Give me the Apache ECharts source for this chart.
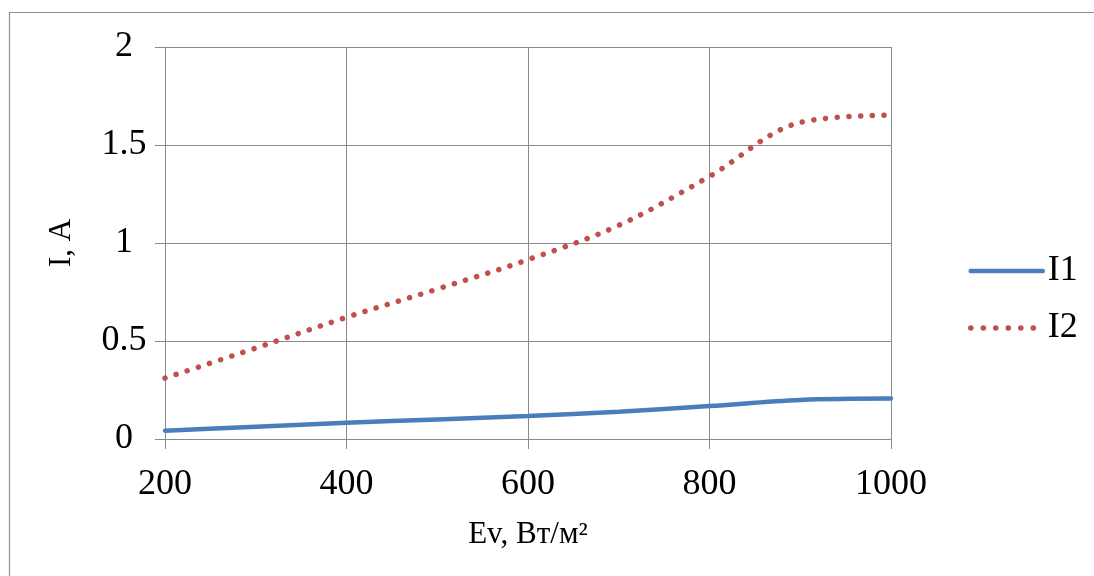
<!DOCTYPE html>
<html>
<head>
<meta charset="utf-8">
<script src="https://cdn.jsdelivr.net/npm/echarts@6/dist/echarts.min.js"></script>
<style>
  html, body { margin: 0; padding: 0; background: #fff; }
  #chart { width: 1094px; height: 576px; }
</style>
</head>
<body>
<div id="chart"></div>
<script>
// Irradiance, W/m²
const irradiance = [200, 300, 400, 500, 600, 700, 800, 900, 1000];
// Currents, A
const currentI1 = [0.042, 0.063, 0.083, 0.100, 0.117, 0.139, 0.168, 0.199, 0.206];
const currentI2 = [0.311, 0.464, 0.621, 0.765, 0.915, 1.090, 1.340, 1.615, 1.652];

const seriesNames = ['I1', 'I2'];
const xTitle = 'Ev, Вт/м²';
const yTitle = 'I, A';

const FONT = '"Liberation Serif", "DejaVu Serif", serif';
const GRID_COLOR = '#8a8a8a';
const BLUE = '#4a7ebb';
const RED = '#c0504d';

const pairs = (ys) => irradiance.map((x, i) => [x, ys[i]]);

const solidStyle = { color: BLUE, width: 4.5, cap: 'round' };
const dottedStyle = { color: RED, width: 5.5, type: [0.1, 11.6], cap: 'round' };

const chart = echarts.init(document.getElementById('chart'));
chart.setOption({
  animation: false,
  backgroundColor: '#ffffff',
  textStyle: { fontFamily: FONT, color: '#000' },
  grid: { left: 165, right: 203, top: 47, bottom: 137, containLabel: false },
  xAxis: {
    type: 'value',
    min: 200,
    max: 1000,
    interval: 200,
    name: xTitle,
    nameLocation: 'middle',
    nameGap: 80,
    nameTextStyle: { fontFamily: FONT, fontSize: 31, color: '#000' },
    axisLine: { show: true, lineStyle: { color: GRID_COLOR, width: 1 } },
    axisTick: { show: true, length: 10, lineStyle: { color: GRID_COLOR, width: 1 } },
    axisLabel: { fontFamily: FONT, fontSize: 36, color: '#000', margin: 28, formatter: (v) => String(v) },
    splitLine: { show: true, lineStyle: { color: GRID_COLOR, width: 1 } }
  },
  yAxis: {
    type: 'value',
    min: 0,
    max: 2,
    interval: 0.5,
    name: yTitle,
    nameLocation: 'middle',
    nameGap: 88,
    nameRotate: 90,
    nameTextStyle: { fontFamily: FONT, fontSize: 31, color: '#000' },
    axisLine: { show: true, lineStyle: { color: GRID_COLOR, width: 1 } },
    axisTick: { show: true, length: 10, lineStyle: { color: GRID_COLOR, width: 1 } },
    axisLabel: { fontFamily: FONT, fontSize: 36, color: '#000', margin: 41, align: 'center', formatter: (v) => String(v) },
    splitLine: { show: true, lineStyle: { color: GRID_COLOR, width: 1 } }
  },
  legend: {
    orient: 'vertical',
    left: 963,
    top: 248,
    itemWidth: 72,
    itemHeight: 10,
    itemGap: 21,
    itemStyle: { opacity: 0 },
    textStyle: { fontFamily: FONT, fontSize: 36, color: '#000', padding: [0, 0, 0, 0] },
    data: [
      { name: seriesNames[0], lineStyle: solidStyle },
      { name: seriesNames[1], lineStyle: { color: RED, width: 5.5, type: [0.1, 12.4], cap: 'round' } }
    ]
  },
  graphic: [{
    type: 'rect',
    shape: { x: 9.5, y: 12.5, width: 1200, height: 700 },
    style: { fill: 'none', stroke: '#8f8f8f', lineWidth: 1.2 },
    silent: true,
    z: -1
  }],
  series: [
    {
      name: seriesNames[0],
      type: 'line',
      data: pairs(currentI1),
      smooth: 0.35,
      symbol: 'none',
      lineStyle: solidStyle,
      itemStyle: { color: BLUE }
    },
    {
      name: seriesNames[1],
      type: 'line',
      data: pairs(currentI2),
      smooth: 0.35,
      symbol: 'none',
      lineStyle: dottedStyle,
      itemStyle: { color: RED }
    }
  ]
});
</script>
</body>
</html>
